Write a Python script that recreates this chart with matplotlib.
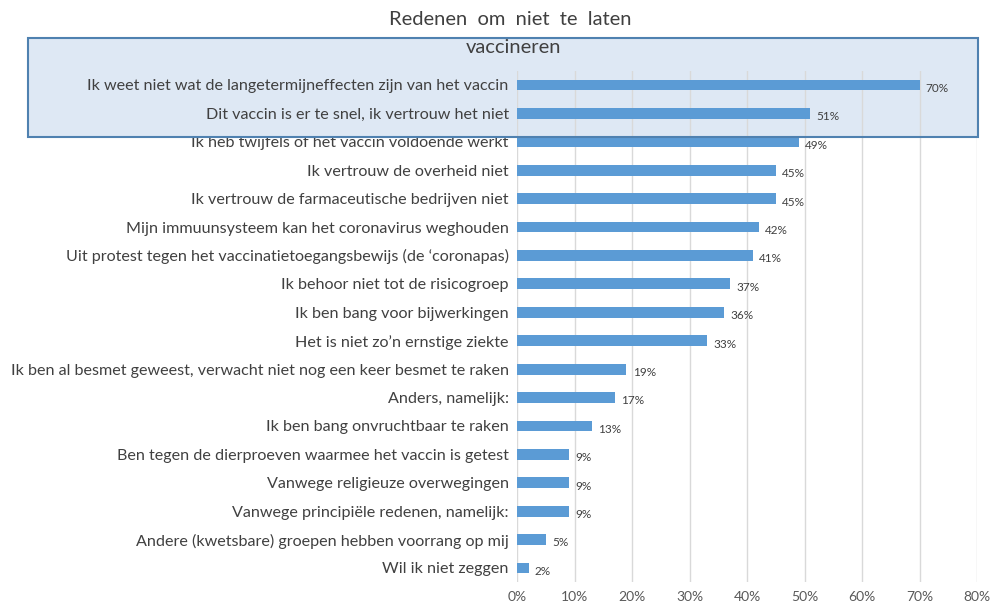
import matplotlib
matplotlib.use("Agg")
import matplotlib.pyplot as plt
from matplotlib.patches import Rectangle

categories = [
    "Ik weet niet wat de langetermijneffecten zijn van het vaccin",
    "Dit vaccin is er te snel, ik vertrouw het niet",
    "Ik heb twijfels of het vaccin voldoende werkt",
    "Ik vertrouw de overheid niet",
    "Ik vertrouw de farmaceutische bedrijven niet",
    "Mijn immuunsysteem kan het coronavirus weghouden",
    "Uit protest tegen het vaccinatietoegangsbewijs (de \u2018coronapas)",
    "Ik behoor niet tot de risicogroep",
    "Ik ben bang voor bijwerkingen",
    "Het is niet zo\u2019n ernstige ziekte",
    "Ik ben al besmet geweest, verwacht niet nog een keer besmet te raken",
    "Anders, namelijk:",
    "Ik ben bang onvruchtbaar te raken",
    "Ben tegen de dierproeven waarmee het vaccin is getest",
    "Vanwege religieuze overwegingen",
    "Vanwege principi\u00eble redenen, namelijk:",
    "Andere (kwetsbare) groepen hebben voorrang op mij",
    "Wil ik niet zeggen",
]
values = [70, 51, 49, 45, 45, 42, 41, 37, 36, 33, 19, 17, 13, 9, 9, 9, 5, 2]
xticks = [0, 10, 20, 30, 40, 50, 60, 70, 80]
title_lines = ["Redenen  om  niet  te  laten", "vaccineren"]

plt.rcParams['font.family'] = ['Lato', 'DejaVu Sans']

fig = plt.figure(figsize=(9.91, 6.03), dpi=100)
fig.patch.set_facecolor("white")
ax = fig.add_axes([0.5217, 0.0345, 0.4642, 0.8481])
ax.set_facecolor("none")

n = len(categories)
ypos = list(range(n))
ax.barh(ypos, values, height=0.38, color="#5B9BD5", zorder=3)
for y, v in zip(ypos, values):
    ax.text(v + 1.1, y + 0.12, f"{v}%", va="center", ha="left",
            fontsize=8.5, color="#404040", zorder=4)

ax.set_ylim(n - 0.5, -0.5)
ax.set_xlim(0, 80)
ax.set_yticks(ypos)
ax.set_yticklabels(categories, fontsize=11.6, color="#404040")
ax.set_xticks(xticks)
ax.set_xticklabels([f"{t}%" for t in xticks], fontsize=10, color="#595959")
ax.tick_params(axis="both", length=0)
ax.tick_params(axis="y", pad=6)
ax.tick_params(axis="x", pad=6)
ax.grid(axis="x", color="#D9D9D9", linewidth=1, zorder=0)
for s in ax.spines.values():
    s.set_visible(False)

fig.text(0.515, 0.968, title_lines[0], ha="center", va="center",
         fontsize=14.5, color="#404040")
fig.text(0.518, 0.922, title_lines[1], ha="center", va="center",
         fontsize=14.5, color="#404040")

# highlight box: fill behind, border on top
x0, x1 = 28 / 991, 978 / 991
y0, y1 = 1 - 137 / 603, 1 - 38 / 603
fig.patches.append(Rectangle((x0, y0), x1 - x0, y1 - y0, transform=fig.transFigure,
                             facecolor="#DEE8F4", edgecolor="none", zorder=-1))
fig.patches.append(Rectangle((x0, y0), x1 - x0, y1 - y0, transform=fig.transFigure,
                             facecolor="none", edgecolor="#4F81B0",
                             linewidth=1.5, zorder=10))

fig.savefig("out.png", dpi=100)
